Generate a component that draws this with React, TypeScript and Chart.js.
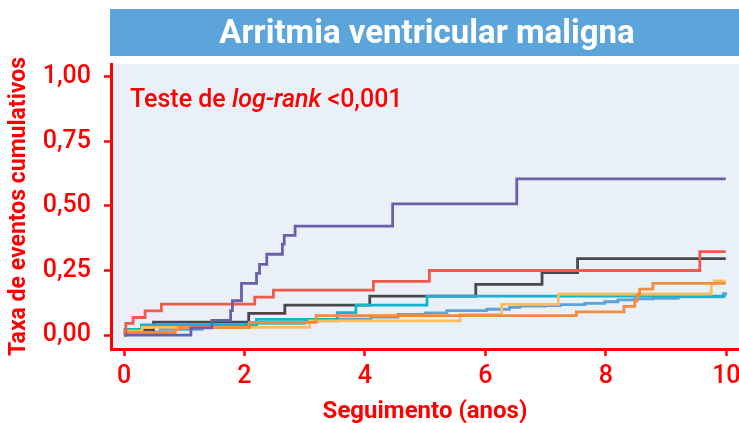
import React, { useEffect, useRef } from "react";
import { Chart, registerables } from "chart.js";

Chart.register(...registerables);

const chartTitle = "Arritmia ventricular maligna";
const xAxisTitle = "Seguimento (anos)";
const yAxisTitle = "Taxa de eventos cumulativos";
const xTickValues = [0, 2, 4, 6, 8, 10];
const yTickValues = [0, 0.25, 0.5, 0.75, 1];

const purpleTimes = [0, 1.11, 1.46, 1.77, 1.8, 1.95, 2.2, 2.25, 2.37, 2.63, 2.66, 2.84, 4.46, 6.52, 9.99];
const purpleValues = [0, 0.028, 0.057, 0.095, 0.133, 0.2, 0.239, 0.274, 0.313, 0.352, 0.386, 0.422, 0.508, 0.605, 0.605];

const redTimes = [0, 0.03, 0.15, 0.35, 0.62, 2.17, 2.48, 4.14, 5.07, 9.56, 9.99];
const redValues = [0, 0.045, 0.068, 0.094, 0.12, 0.147, 0.174, 0.208, 0.25, 0.323, 0.323];

const grayTimes = [0, 0.02, 0.49, 2.07, 2.67, 4.08, 5.84, 6.94, 7.53, 9.99];
const grayValues = [0, 0.02, 0.05, 0.084, 0.116, 0.151, 0.196, 0.242, 0.296, 0.296];

const tealTimes = [0, 0.02, 0.29, 2.2, 3.54, 3.85, 5.03, 9.99];
const tealValues = [0, 0.022, 0.039, 0.061, 0.087, 0.116, 0.151, 0.151];

const orangeTimes = [0, 0.02, 0.85, 0.91, 2.08, 3.19, 7.51, 8.3, 8.48, 8.52, 8.56, 8.78, 9.99];
const orangeValues = [0, 0.01, 0.02, 0.029, 0.049, 0.075, 0.09, 0.111, 0.133, 0.155, 0.178, 0.2, 0.2];

const yellowTimes = [0, 0.03, 0.3, 3.08, 5.58, 6.27, 7.21, 9.75, 9.8, 9.99];
const yellowValues = [0, 0.015, 0.03, 0.055, 0.08, 0.119, 0.159, 0.2, 0.21, 0.21];

const blueTimes = [0, 0.02, 0.6, 1.3, 2.2, 3.0, 3.55, 4.1, 4.55, 5.0, 5.36, 6.02, 6.4, 6.57, 7.0, 7.24, 7.65, 7.98, 8.2, 8.48, 8.79, 9.2, 9.95, 9.99];
const blueValues = [0, 0.012, 0.022, 0.032, 0.045, 0.055, 0.062, 0.07, 0.08, 0.086, 0.095, 0.1, 0.107, 0.112, 0.114, 0.118, 0.123, 0.129, 0.136, 0.14, 0.142, 0.148, 0.16, 0.166];

const RED = "#FF0000";
const FONT = "Roboto";

function toPoints(times: number[], values: number[]) {
  return times.map((t, i) => ({ x: t, y: values[i] }));
}

const backgroundPlugin = {
  id: "panelBackground",
  beforeDraw(chart: any) {
    const { ctx, chartArea } = chart;
    ctx.save();
    ctx.fillStyle = "#EAF0F8";
    ctx.fillRect(chartArea.left, chartArea.top, chartArea.right - chartArea.left, chartArea.bottom - chartArea.top);
    ctx.fillStyle = "#5BA5DA";
    ctx.fillRect(chartArea.left - 1, 9, chartArea.right - chartArea.left + 1, 47);
    ctx.fillStyle = "#FFFFFF";
    ctx.font = `bold 33px ${FONT}`;
    ctx.textAlign = "center";
    ctx.textBaseline = "alphabetic";
    ctx.fillText(chartTitle, (chartArea.left + chartArea.right) / 2 + 2, 43);
    ctx.restore();
  },
  afterDatasetsDraw(chart: any) {
    const { ctx, chartArea } = chart;
    ctx.save();
    ctx.fillStyle = RED;
    ctx.textBaseline = "alphabetic";
    ctx.textAlign = "left";
    let x = chartArea.left + 19;
    const y = 107;
    const parts: [string, string][] = [
      ["Teste de ", `500 25px ${FONT}`],
      ["log-rank", `italic 500 25px ${FONT}`],
      [" <0,001", `500 25px ${FONT}`],
    ];
    for (const [txt, f] of parts) {
      ctx.font = f;
      ctx.fillText(txt, x, y);
      x += ctx.measureText(txt).width;
    }
    ctx.restore();
  },
};

export default function App() {
  const canvasRef = useRef<HTMLCanvasElement | null>(null);

  useEffect(() => {
    document.body.style.margin = "0";
    if (!canvasRef.current) return;
    const mk = (label: string, times: number[], values: number[], color: string) => ({
      label,
      data: toPoints(times, values),
      borderColor: color,
      backgroundColor: color,
      borderWidth: 2.8,
      pointRadius: 0,
      stepped: true as const,
      fill: false,
    });
    const chart = new Chart(canvasRef.current, {
      type: "line",
      data: {
        datasets: [
          mk("Grupo 1", purpleTimes, purpleValues, "#6A60A9"),
          mk("Grupo 2", redTimes, redValues, "#EF5A4A"),
          mk("Grupo 3", orangeTimes, orangeValues, "#F68B3C"),
          mk("Grupo 4", yellowTimes, yellowValues, "#FDBF5C"),
          mk("Grupo 5", tealTimes, tealValues, "#14B4CC"),
          mk("Grupo 6", grayTimes, grayValues, "#48484B"),
          mk("Grupo 7", blueTimes, blueValues, "#5BA3D9"),
        ],
      },
      options: {
        animation: false,
        responsive: true,
        maintainAspectRatio: false,
        layout: { padding: { top: 64, left: 0, right: 0, bottom: 0 } },
        plugins: { legend: { display: false }, tooltip: { enabled: false } },
        scales: {
          x: {
            type: "linear",
            min: -0.216,
            max: 10.21,
            afterBuildTicks: (s: any) => {
              s.ticks = xTickValues.map((v) => ({ value: v }));
            },
            afterFit: (s: any) => {
              s.height = 74;
              s.paddingLeft = 0;
              s.paddingRight = 0;
            },
            grid: { drawOnChartArea: false, drawTicks: true, tickLength: 7, tickColor: RED, tickWidth: 2.5 },
            border: { display: true, color: RED, width: 3 },
            ticks: {
              color: RED,
              font: { family: FONT, size: 25, weight: "500" },
              padding: 6,
              maxRotation: 0,
              autoSkip: false,
              callback: (v: any) => String(v),
            },
            title: {
              display: true,
              text: xAxisTitle,
              color: RED,
              font: { family: FONT, size: 24, weight: "bold" },
              padding: { top: 0, bottom: -3 },
            },
          },
          y: {
            type: "linear",
            min: -0.054,
            max: 1.05,
            afterBuildTicks: (s: any) => {
              s.ticks = yTickValues.map((v) => ({ value: v }));
            },
            afterFit: (s: any) => {
              s.width = 111;
            },
            grid: { drawOnChartArea: false, drawTicks: true, tickLength: 7, tickColor: RED, tickWidth: 2.5 },
            border: { display: true, color: RED, width: 3 },
            ticks: {
              color: RED,
              font: { family: FONT, size: 25, weight: "500" },
              padding: 13,
              autoSkip: false,
              callback: (v: any) => Number(v).toFixed(2).replace(".", ","),
            },
            title: {
              display: true,
              text: yAxisTitle,
              color: RED,
              font: { family: FONT, size: 23, weight: "bold" },
              padding: { top: 5, bottom: 0 },
            },
          },
        },
      },
      plugins: [backgroundPlugin],
    });
    return () => chart.destroy();
  }, []);

  return (
    <div style={{ width: 739, height: 423, position: "relative", background: "#FFFFFF" }}>
      <canvas ref={canvasRef} />
    </div>
  );
}
